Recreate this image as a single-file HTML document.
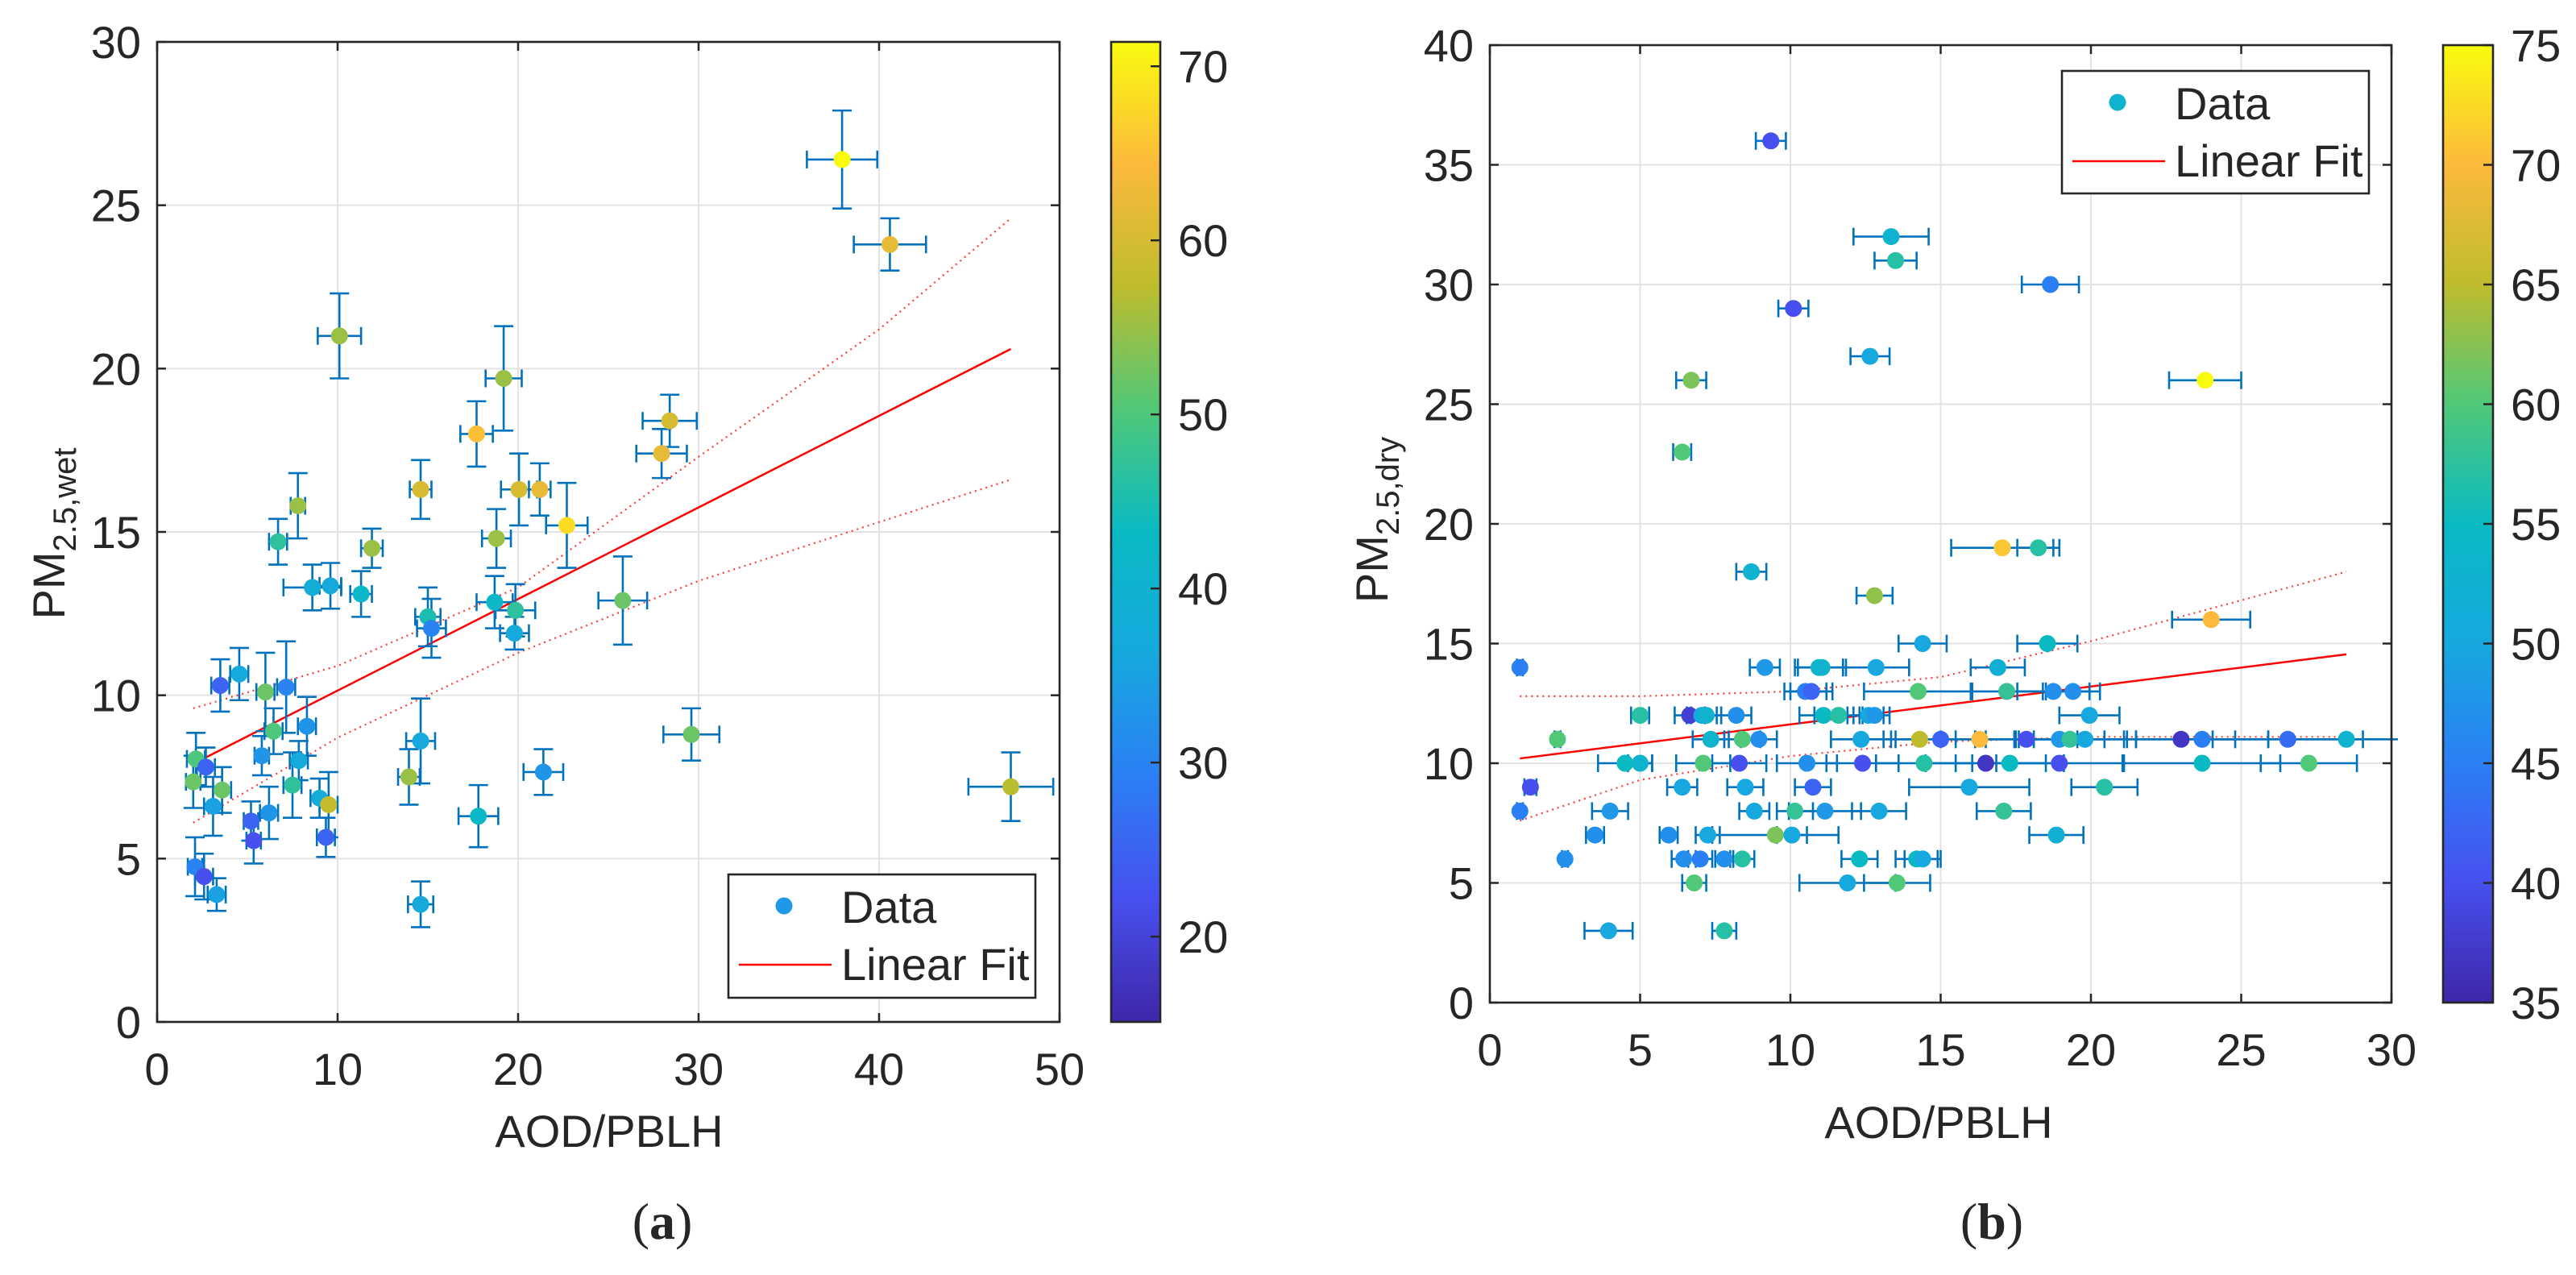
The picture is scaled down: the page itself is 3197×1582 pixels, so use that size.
<!DOCTYPE html>
<html><head><meta charset="utf-8"><style>
html,body{margin:0;padding:0;background:#fff;}
svg{display:block;}
text{font-family:"Liberation Sans",sans-serif;fill:#262626;}
</style></head><body>
<svg id="fig" width="3197" height="1582" viewBox="0 0 3197 1582" xmlns="http://www.w3.org/2000/svg">
<defs>
<linearGradient id="parula" x1="0" y1="1" x2="0" y2="0">
<stop offset="0" stop-color="rgb(62,38,168)"/><stop offset="0.125" stop-color="rgb(71,80,238)"/><stop offset="0.25" stop-color="rgb(43,127,245)"/><stop offset="0.375" stop-color="rgb(22,168,222)"/><stop offset="0.5" stop-color="rgb(10,186,195)"/><stop offset="0.625" stop-color="rgb(80,200,120)"/><stop offset="0.75" stop-color="rgb(190,188,45)"/><stop offset="0.875" stop-color="rgb(252,186,60)"/><stop offset="1" stop-color="rgb(249,251,14)"/>
</linearGradient>
</defs>
<g id="panelA"></g>
<g id="panelB"></g>
</svg>
<script>
// ---------- Panel (a) data ----------
const aX=[37.95,40.6,10.1,19.2,17.7,28.4,27.95,14.6,20.05,21.2,22.7,7.8,6.7,11.9,18.8,8.6,9.6,11.3,15.0,15.2,18.7,19.85,19.8,25.8,29.6,47.3,21.4,17.8,14.6,13.95,14.6,3.5,4.55,6.0,7.15,8.3,6.45,5.8,7.85,7.5,2.15,2.7,2.0,3.6,3.1,9.0,9.5,5.2,6.2,5.35,9.35,2.1,2.6,3.3];
const aY=[26.4,23.8,21.0,19.7,18.0,18.4,17.4,16.3,16.3,16.3,15.2,15.8,14.7,14.5,14.8,13.3,13.35,13.1,12.4,12.05,12.85,12.6,11.9,12.9,8.8,7.2,7.65,6.3,8.6,7.5,3.6,10.3,10.65,10.1,10.25,9.05,8.9,8.15,8.0,7.25,8.05,7.8,7.35,7.1,6.6,6.85,6.65,6.15,6.4,5.55,5.65,4.75,4.45,3.9];
const aC=[72,62,55,55,65,60,62,60,60,62,68,55,47,55,55,38,37,42,45,30,42,47,37,52,52,57,33,42,37,55,37,25,37,52,30,33,50,33,37,47,50,25,52,52,35,38,58,25,33,22,25,30,22,35];
const aXE=[1.95,2.0,1.2,1.0,0.9,1.5,1.4,0.6,1.0,0.6,1.15,0.4,0.5,0.6,0.8,1.6,0.6,0.6,0.7,0.8,1.0,1.1,0.8,1.35,1.55,2.35,1.1,1.1,0.8,0.6,0.7,0.5,0.5,0.5,0.5,0.5,0.5,0.4,0.5,0.5,0.5,0.5,0.4,0.5,0.5,0.5,0.5,0.4,0.5,0.4,0.5,0.4,0.5,0.5];
const aYE=[1.5,0.8,1.3,1.6,1.0,0.8,0.75,0.9,1.1,0.8,1.3,1.0,0.7,0.6,0.9,0.7,0.7,0.7,0.9,0.9,0.8,0.8,0.5,1.35,0.8,1.05,0.7,0.95,1.3,0.85,0.7,0.8,0.8,1.2,1.4,0.9,0.7,0.6,0.6,1.0,0.8,0.6,0.8,0.7,0.9,0.6,1.0,0.6,0.8,0.7,0.6,0.9,0.7,0.5];
const aFitX=[2,47.3];
const aFitY=[7.9,20.6];
const aBandX=[2,10,20,30,40,47.3];
const aBandUp=[9.6,10.9,13.3,17.3,21.2,24.6];
const aBandLo=[6.1,8.7,11.3,13.5,15.3,16.6];
const aXTicks=[0,10,20,30,40,50];
const aYTicks=[0,5,10,15,20,25,30];
const aCTicks=[20,30,40,50,60,70];

// ---------- Panel (b) data ----------
const bX=[9.35,13.35,13.5,18.65,10.1,12.65,6.7,23.8,6.4,17.05,18.25,8.7,12.8,24.0,14.4,18.55,
1.0,9.15,10.95,11.05,12.85,16.9,
10.5,10.7,14.25,17.2,18.75,19.4,
5.0,6.65,7.05,7.2,8.2,11.1,11.6,12.6,12.8,19.95,
2.25,7.35,8.4,8.95,12.35,14.3,15.0,16.3,17.85,18.95,19.3,19.8,23.0,23.7,26.55,28.5,
4.5,5.0,7.1,8.3,10.55,12.4,14.45,16.5,17.3,18.95,23.7,27.25,
1.35,6.4,8.5,10.75,15.95,20.45,
1.0,4.0,8.8,10.15,11.15,12.95,17.1,
3.5,5.95,7.25,9.5,10.05,18.85,
2.5,6.45,7.0,7.8,8.4,12.3,14.2,14.4,
6.8,11.9,13.55,
3.95,7.8];
const bY=[36,32,31,30,29,27,26,26,23,19,19,18,17,16,15,15,
14,14,14,14,14,14,
13,13,13,13,13,13,
12,12,12,12,12,12,12,12,12,12,
11,11,11,11,11,11,11,11,11,11,11,11,11,11,11,11,
10,10,10,10,10,10,10,10,10,10,10,10,
9,9,9,9,9,9,
8,8,8,8,8,8,8,
7,7,7,7,7,7,
6,6,6,6,6,6,6,6,
5,5,5,
3,3];
const bC=[40,53,57,45,40,50,62,75,60,71,57,53,63,70,50,55,
45,48,53,53,50,52,
45,42,60,58,47,47,
57,38,50,53,47,55,57,50,48,50,
60,53,60,47,50,65,42,70,40,48,58,50,37,45,43,53,
55,53,60,40,47,40,57,37,55,40,55,60,
40,50,50,42,50,57,
45,48,50,58,48,50,58,
47,47,50,62,50,52,
47,47,45,47,57,55,55,50,
60,50,60,
50,57];
const bXE=[0.5,1.25,0.7,0.95,0.5,0.65,0.5,1.2,0.3,1.7,0.7,0.5,0.6,1.3,0.8,1.0,
0.1,0.5,0.8,0.8,1.1,0.9,
0.7,0.7,1.8,1.2,1.2,0.9,
0.3,0.5,0.5,0.5,0.5,0.8,0.8,0.5,0.5,1.0,
0.1,0.6,0.6,0.6,1.0,1.2,1.5,1.3,1.7,1.5,1.8,1.7,1.8,2.2,2.5,2.6,
0.9,0.4,0.9,0.9,1.0,1.2,1.6,2.0,1.8,2.1,2.6,1.6,
0.2,0.5,0.6,0.6,2.0,1.1,
0.1,0.6,0.5,0.6,1.2,0.9,0.9,
0.3,0.3,0.4,2.1,0.5,0.9,
0.1,0.4,0.4,0.3,0.4,0.6,0.7,0.6,
0.4,1.6,1.1,
0.8,0.4];
const bFitX=[1,28.5];
const bFitY=[10.2,14.55];
const bBandX=[1,5,10,15,20,28.5];
const bBandUp=[12.8,12.8,13.0,13.6,15.1,18.0];
const bBandLo=[7.6,9.3,10.3,10.9,11.1,11.1];
const bXTicks=[0,5,10,15,20,25,30];
const bYTicks=[0,5,10,15,20,25,30,35,40];
const bCTicks=[35,40,45,50,55,60,65,70,75];

const NS="http://www.w3.org/2000/svg";
function mk(parent,tag,attrs){const e=document.createElementNS(NS,tag);for(const k in attrs)e.setAttribute(k,attrs[k]);parent.appendChild(e);return e;}
const stops=[[0,62,38,168],[0.125,71,80,238],[0.25,43,127,245],[0.375,22,168,222],[0.5,10,186,195],[0.625,80,200,120],[0.75,190,188,45],[0.875,252,186,60],[1,249,251,14]];
function parula(t){t=Math.max(0,Math.min(1,t));for(let i=1;i<stops.length;i++){if(t<=stops[i][0]){const a=stops[i-1],b=stops[i];const f=(t-a[0])/(b[0]-a[0]);return `rgb(${Math.round(a[1]+f*(b[1]-a[1]))},${Math.round(a[2]+f*(b[2]-a[2]))},${Math.round(a[3]+f*(b[3]-a[3]))})`;}}return 'rgb(249,251,14)';}

function drawPanel(g,cfg){
  const sx=v=>cfg.L+(v-cfg.xmin)/(cfg.xmax-cfg.xmin)*(cfg.R-cfg.L);
  const sy=v=>cfg.B-(v-cfg.ymin)/(cfg.ymax-cfg.ymin)*(cfg.B-cfg.T);
  const sc=v=>(v-cfg.cmin)/(cfg.cmax-cfg.cmin);
  cfg.xt.forEach(v=>{const l=mk(g,'line',{x1:sx(v),x2:sx(v),y1:cfg.T,y2:cfg.B,stroke:'#e3e3e3','stroke-width':2});
    
    });
  cfg.yt.forEach(v=>{const l=mk(g,'line',{x1:cfg.L,x2:cfg.R,y1:sy(v),y2:sy(v),stroke:'#e3e3e3','stroke-width':2});
    
    });
  const band=(arrY,name)=>{const pts=cfg.bandX.map((x,i)=>sx(x)+','+sy(arrY[i])).join(' ');
    const p=mk(g,'polyline',{points:pts,fill:'none',stroke:'#ff3b3b','stroke-width':2.2,'stroke-dasharray':'2 5'});
    
    };
  band(cfg.bandUp,'upper-confidence-bound');
  band(cfg.bandLo,'lower-confidence-bound');
  const fl=mk(g,'line',{x1:sx(cfg.fitX[0]),y1:sy(cfg.fitY[0]),x2:sx(cfg.fitX[1]),y2:sy(cfg.fitY[1]),stroke:'#ff0000','stroke-width':2.5});
  
  
  const eb='#0072bd';
  cfg.x.forEach((x,i)=>{
    const cx=sx(x),cy=sy(cfg.y[i]);
    const eg=mk(g,'g',{stroke:eb,'stroke-width':2.6,fill:'none'});
    
    
    const x1=sx(x-cfg.xe[i]);
    const rawX2=sx(x+cfg.xe[i]);
    const x2=Math.min(rawX2,cfg.R+8);
    mk(eg,'line',{x1:x1,x2:x2,y1:cy,y2:cy});
    mk(eg,'line',{x1:x1,x2:x1,y1:cy-11,y2:cy+11});
    if(rawX2<=cfg.R+8) mk(eg,'line',{x1:x2,x2:x2,y1:cy-11,y2:cy+11});
    if(cfg.ye){const y1=sy(cfg.y[i]-cfg.ye[i]),y2=sy(cfg.y[i]+cfg.ye[i]);
      mk(eg,'line',{x1:cx,x2:cx,y1:y1,y2:y2});
      mk(eg,'line',{x1:cx-12,x2:cx+12,y1:y1,y2:y1});
      mk(eg,'line',{x1:cx-12,x2:cx+12,y1:y2,y2:y2});}
  });
  cfg.x.forEach((x,i)=>{
    const c=mk(g,'circle',{cx:sx(x),cy:sy(cfg.y[i]),r:10.5,fill:parula(sc(cfg.c[i]))});
    
    
  });
  const fr=mk(g,'rect',{x:cfg.L,y:cfg.T,width:cfg.R-cfg.L,height:cfg.B-cfg.T,fill:'none',stroke:'#262626','stroke-width':2.6});
  
  
  cfg.xt.forEach(v=>{
    mk(g,'line',{x1:sx(v),x2:sx(v),y1:cfg.B,y2:cfg.B-11,stroke:'#262626','stroke-width':2.5});
    mk(g,'line',{x1:sx(v),x2:sx(v),y1:cfg.T,y2:cfg.T+11,stroke:'#262626','stroke-width':2.5});
    const t=mk(g,'text',{x:sx(v),y:cfg.B+78,'font-size':56,'text-anchor':'middle'});t.textContent=v;
    
    
  });
  cfg.yt.forEach(v=>{
    mk(g,'line',{x1:cfg.L,x2:cfg.L+11,y1:sy(v),y2:sy(v),stroke:'#262626','stroke-width':2.5});
    mk(g,'line',{x1:cfg.R,x2:cfg.R-11,y1:sy(v),y2:sy(v),stroke:'#262626','stroke-width':2.5});
    const t=mk(g,'text',{x:cfg.L-20,y:sy(v)+20,'font-size':56,'text-anchor':'end'});t.textContent=v;
    
    
  });
  const cb=mk(g,'rect',{x:cfg.cbL,y:cfg.T,width:cfg.cbR-cfg.cbL,height:cfg.B-cfg.T,fill:'url(#parula)',stroke:'#262626','stroke-width':2.6});
  
  
  cfg.ct.forEach(v=>{const yy=cfg.B-sc(v)*(cfg.B-cfg.T);
    mk(g,'line',{x1:cfg.cbR,x2:cfg.cbR-12,y1:yy,y2:yy,stroke:'#262626','stroke-width':2.5});
    const t=mk(g,'text',{x:cfg.cbR+22,y:yy+20,'font-size':56});t.textContent=v;
    
    });
  const xl=mk(g,'text',{x:cfg.xlX,y:cfg.xlY,'font-size':56,'text-anchor':'middle'});xl.textContent='AOD/PBLH';
  
  
  const yl=mk(g,'text',{transform:`translate(${cfg.ylX},${cfg.ylY}) rotate(-90)`,'font-size':56,'text-anchor':'middle'});
  yl.innerHTML='PM<tspan font-size="40" dy="14">'+cfg.sub+'</tspan>';
  
  
  const pl=mk(g,'text',{x:cfg.plX,y:1537,'font-size':64,'text-anchor':'middle',style:'font-family:"Liberation Serif",serif'});
  pl.innerHTML='(<tspan font-weight="bold">'+cfg.letter+'</tspan>)';
  
  
  const lg=mk(g,'g',{});
  
  
  mk(lg,'rect',{x:cfg.lg[0],y:cfg.lg[1],width:cfg.lg[2],height:cfg.lg[3],fill:'#fff',stroke:'#262626','stroke-width':2.6});
  const lx=cfg.lg[0],ly=cfg.lg[1];
  const m=mk(lg,'circle',{cx:lx+69,cy:ly+39,r:10.5,fill:cfg.legC});
  
  
  const t1=mk(lg,'text',{x:lx+140,y:ly+60,'font-size':56});t1.textContent='Data';
  
  
  const ll=mk(lg,'line',{x1:lx+13,x2:lx+128,y1:ly+112,y2:ly+112,stroke:'#ff0000','stroke-width':2.5});
  
  
  const t2=mk(lg,'text',{x:lx+140,y:ly+131,'font-size':56});t2.textContent='Linear Fit';
  
  
}

drawPanel(document.getElementById('panelA'),{L:195,R:1315,T:52,B:1268,xmin:0,xmax:50,ymin:0,ymax:30,cmin:15.1,cmax:71.4,
  x:aX,y:aY,c:aC,xe:aXE,ye:aYE,fitX:aFitX,fitY:aFitY,bandX:aBandX,bandUp:aBandUp,bandLo:aBandLo,
  xt:aXTicks,yt:aYTicks,ct:aCTicks,cbL:1379,cbR:1440,xlX:756,xlY:1423,ylX:80,ylY:662,sub:'2.5,wet',plX:822,letter:'a',
  lg:[904,1085,381,153],legC:parula(0.33)});
drawPanel(document.getElementById('panelB'),{L:1849,R:2968,T:56,B:1244,xmin:0,xmax:30,ymin:0,ymax:40,cmin:35,cmax:75,
  x:bX,y:bY,c:bC,xe:bXE,ye:null,fitX:bFitX,fitY:bFitY,bandX:bBandX,bandUp:bBandUp,bandLo:bBandLo,
  xt:bXTicks,yt:bYTicks,ct:bCTicks,cbL:3032,cbR:3094,xlX:2406,xlY:1412,ylX:1722,ylY:645,sub:'2.5,dry',plX:2472,letter:'b',
  lg:[2559,88,381,152],legC:parula(0.45)});
</script>
</body></html>
